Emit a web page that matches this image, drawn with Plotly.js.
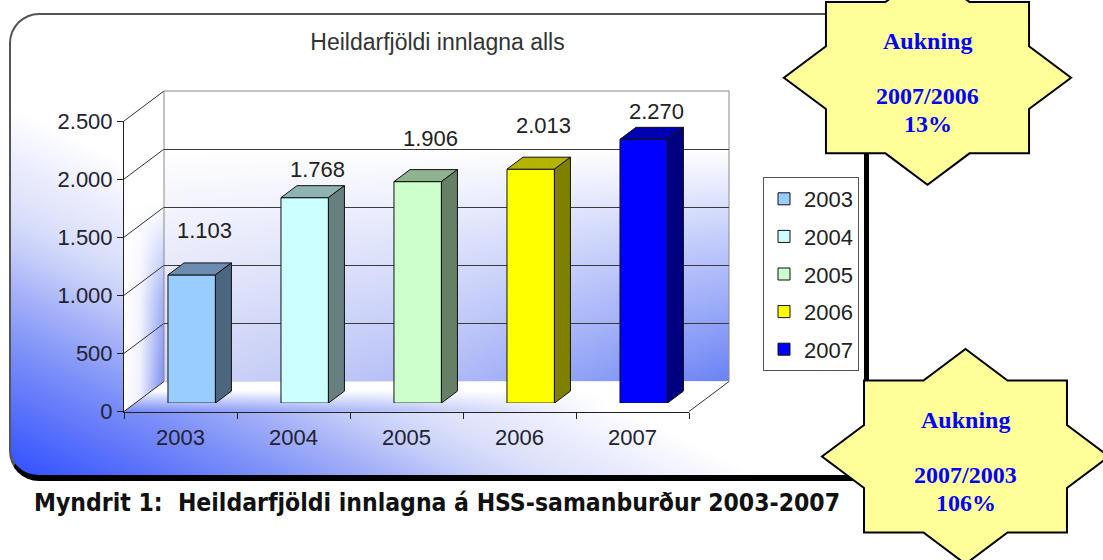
<!DOCTYPE html>
<html>
<head>
<meta charset="utf-8">
<script src="https://cdn.plot.ly/plotly-3.0.1.min.js"></script>
<style>
html,body{margin:0;padding:0;background:#ffffff;}
#wrap{position:relative;width:1103px;height:560px;overflow:hidden;}
#frame{position:absolute;left:9px;top:13px;width:860px;height:468px;box-sizing:border-box;
  border-top:2px solid #555;border-left:2px solid #555;border-right:5px solid #000;border-bottom:6px solid #000;
  border-radius:30px 0 0 30px;
  background:linear-gradient(26.3deg,#3050ff 0%,#5a72fb 8%,#7f92f8 15%,#a4b1f8 21%,#c6cef9 26%,#dadffa 30%,#eceefd 36%,#ffffff 42%);}
#chart{position:absolute;left:0;top:0;width:1103px;height:560px;}
</style>
</head>
<body>
<div id="wrap"><div id="frame"></div><div id="chart"></div></div>
<script>
// ---------- data ----------
const categories = ['2003', '2004', '2005', '2006', '2007'];
const values = [1103, 1768, 1906, 2013, 2270];
const valueLabels = ['1.103', '1.768', '1.906', '2.013', '2.270'];
const yTickVals = [0, 500, 1000, 1500, 2000, 2500];
const yTickText = ['0', '500', '1.000', '1.500', '2.000', '2.500'];
const chartTitle = 'Heildarfjöldi innlagna alls';
const captionText = 'Myndrit 1:  Heildarfjöldi innlagna á HSS-samanburður 2003-2007';
const star1Text = ['Aukning', '2007/2006', '13%'];
const star2Text = ['Aukning', '2007/2003', '106%'];

// ---------- styles ----------
const barColors = ['#99ccff', '#ccffff', '#ccffcc', '#ffff00', '#0000ff'];
const topColors = ['#6d8cb2', '#8fb3b3', '#8fb38f', '#b3b300', '#0000b3'];
const sideColors = ['#4d6680', '#668080', '#668066', '#808000', '#000080'];
const labelLift = [44, 28, 43, 44, 28];   // px above bar top
const starLineOffsets = [-37, 18, 46];    // px from star centre
const W = 1103, H = 560;
const FRONT = {x0: 124, x1: 689, y0: 411.5, y1: 121};
const DEPTH = {dx: 40, dy: 30};
const BAR_FRONT = 0.28, BAR_DEPTH = 0.4, BAR_WIDTH = 0.42;
const yMax = 2500;
const FONT = 'Liberation Sans, Arial, sans-serif';
const STARS = [
  {cx: 927.5, cy: 77.7, rx: 143.6, ry: 107, text: star1Text},
  {cx: 965.5, cy: 456.5, rx: 143.5, ry: 107.5, text: star2Text}
];

const pxPerCat = (FRONT.x1 - FRONT.x0) / categories.length;
const pxPerVal = (FRONT.y0 - FRONT.y1) / yMax;
const xdom = s => [(FRONT.x0 + s) / W, (FRONT.x1 + s) / W];
const ydom = s => [(H - (FRONT.y0 - s)) / H, (H - (FRONT.y1 - s)) / H];

// wall geometry (pixels)
const bx0 = FRONT.x0 + DEPTH.dx, bx1 = FRONT.x1 + DEPTH.dx;
const by0 = FRONT.y0 - DEPTH.dy, by1 = FRONT.y1 - DEPTH.dy;

function polyTrace(pts, grad) {
  const xs = pts.map(p => p[0]), ys = pts.map(p => H - p[1]);
  xs.push(xs[0]); ys.push(ys[0]);
  return {type: 'scatter', xaxis: 'x', yaxis: 'y', x: xs, y: ys, mode: 'lines',
    line: {width: 0}, fill: 'toself', fillgradient: grad, hoverinfo: 'skip', showlegend: false};
}
const backPts = [[bx0, by1], [bx1, by1], [bx1, by0], [bx0, by0]];
const leftPts = [[FRONT.x0, FRONT.y1], [bx0, by1], [bx0, by0], [FRONT.x0, FRONT.y0]];
const floorPts = [[FRONT.x0, FRONT.y0], [bx0, by0], [bx1, by0], [FRONT.x1, FRONT.y0]];

const traces = [];
// back wall: blue to the right, fading to white upwards
traces.push(polyTrace(backPts, {type: 'horizontal', start: bx0, stop: bx1,
  colorscale: [[0, '#d2d6f6'], [0.5, '#b0bbf7'], [1, '#6a82f5']]}));
traces.push(polyTrace(backPts, {type: 'vertical', start: H - by0, stop: H - by1,
  colorscale: [[0, 'rgba(255,255,255,0)'], [0.5, 'rgba(255,255,255,0.6)'], [0.8, 'rgba(255,255,255,1)'], [1, 'rgba(255,255,255,1)']]}));
// left wall: white at front, blue toward the back, lower part only
traces.push(polyTrace(leftPts, {type: 'horizontal', start: FRONT.x0, stop: bx0,
  colorscale: [[0, '#ffffff'], [0.4, '#eef0fd'], [1, '#6f84f0']]}));
traces.push(polyTrace(leftPts, {type: 'vertical', start: H - FRONT.y0, stop: H - by1,
  colorscale: [[0, 'rgba(255,255,255,0)'], [0.35, 'rgba(255,255,255,0.35)'], [0.65, 'rgba(255,255,255,1)'], [1, 'rgba(255,255,255,1)']]}));
// floor: blue at the front-left, white toward back and right
traces.push(polyTrace(floorPts, {type: 'horizontal', start: FRONT.x0, stop: bx1,
  colorscale: [[0, '#7489f5'], [0.45, '#b4bff8'], [0.8, '#ffffff'], [1, '#ffffff']]}));
traces.push(polyTrace(floorPts, {type: 'vertical', start: H - FRONT.y0, stop: H - by0,
  colorscale: [[0, 'rgba(255,255,255,0)'], [0.4, 'rgba(255,255,255,0.55)'], [0.7, 'rgba(255,255,255,1)'], [1, 'rgba(255,255,255,1)']]}));

// edge lines (left-wall gridlines, floor edge)
const ex = [], ey = [];
function seg(a, b) { ex.push(a[0], b[0], null); ey.push(H - a[1], H - b[1], null); }
yTickVals.forEach(v => {
  const yf = FRONT.y0 - v * pxPerVal;
  seg([FRONT.x0, yf], [bx0, yf - DEPTH.dy]);
});
seg([FRONT.x1, FRONT.y0], [bx1, by0]);
traces.push({type: 'scatter', xaxis: 'x', yaxis: 'y', x: ex, y: ey, mode: 'lines',
  line: {color: '#333333', width: 1}, hoverinfo: 'skip', showlegend: false});
// back wall outline (light)
const ox = [bx0, bx0, bx1, bx1], oy = [by0, by1, by1, by0].map(v => H - v);
traces.push({type: 'scatter', xaxis: 'x', yaxis: 'y', x: ox, y: oy, mode: 'lines',
  line: {color: '#8a8a8a', width: 1}, hoverinfo: 'skip', showlegend: false});

// back wall subplot anchor trace (invisible)
traces.push({type: 'scatter', xaxis: 'x2', yaxis: 'y2', x: [0], y: [0], mode: 'markers',
  marker: {opacity: 0}, hoverinfo: 'skip', showlegend: false});

// bars
categories.forEach((c, i) => {
  traces.push({type: 'bar', xaxis: 'x3', yaxis: 'y3', x: [i], y: [values[i]], width: [BAR_WIDTH],
    name: c, legendgroup: c,
    marker: {color: barColors[i], line: {color: '#111111', width: 1}}, hoverinfo: 'skip'});
});
// 3D faces
const dxc = BAR_DEPTH * DEPTH.dx / pxPerCat, dyv = BAR_DEPTH * DEPTH.dy / pxPerVal;
categories.forEach((c, i) => {
  const xl = i - BAR_WIDTH / 2, xr = i + BAR_WIDTH / 2, v = values[i];
  traces.push({type: 'scatter', xaxis: 'x3', yaxis: 'y3', mode: 'lines', fill: 'toself',
    x: [xl, xr, xr + dxc, xl + dxc, xl], y: [v, v, v + dyv, v + dyv, v],
    fillcolor: topColors[i], line: {color: '#111111', width: 1}, hoverinfo: 'skip', showlegend: false});
  traces.push({type: 'scatter', xaxis: 'x3', yaxis: 'y3', mode: 'lines', fill: 'toself',
    x: [xr, xr + dxc, xr + dxc, xr, xr], y: [0, dyv, v + dyv, v, 0],
    fillcolor: sideColors[i], line: {color: '#111111', width: 1}, hoverinfo: 'skip', showlegend: false});
});

// front axes anchor trace (invisible)
traces.push({type: 'scatter', xaxis: 'x4', yaxis: 'y4', x: categories, y: values, mode: 'markers',
  marker: {opacity: 0}, hoverinfo: 'skip', showlegend: false});

// ---------- annotations & shapes ----------
const annotations = [];
categories.forEach((c, i) => {
  annotations.push({xref: 'x3', yref: 'y3', x: i, y: values[i], text: valueLabels[i], showarrow: false,
    xanchor: 'center', yanchor: 'middle', xshift: 13, yshift: labelLift[i],
    font: {family: FONT, size: 22, color: '#222222'}});
});
annotations.push({xref: 'paper', yref: 'paper', x: 436.5 / W, y: (H - 502) / H, text: captionText,
  showarrow: false, xanchor: 'center', yanchor: 'middle',
  font: {family: 'DejaVu Sans Condensed, DejaVu Sans, sans-serif', size: 24.5, color: '#111111', weight: 'bold'}});

const shapes = [];
STARS.forEach(s => {
  let d = '';
  for (let k = 0; k < 16; k++) {
    const a = k * Math.PI / 8, r = (k % 2 === 0) ? 1 : 0.7654;
    const px = s.cx + s.rx * r * Math.cos(a), py = s.cy + s.ry * r * Math.sin(a);
    d += (k === 0 ? 'M' : 'L') + (px / W).toFixed(5) + ',' + ((H - py) / H).toFixed(5);
  }
  d += 'Z';
  shapes.push({type: 'path', xref: 'paper', yref: 'paper', path: d, fillcolor: '#ffff99',
    line: {color: '#000000', width: 2}, layer: 'above'});
  s.text.forEach((t, j) => {
    annotations.push({xref: 'paper', yref: 'paper', x: s.cx / W, y: (H - (s.cy + starLineOffsets[j])) / H,
      text: t, showarrow: false, xanchor: 'center', yanchor: 'middle',
      font: {family: 'Liberation Serif, Times New Roman, serif', size: 24, color: '#0000ff', weight: 'bold'}});
  });
});

const hidden = {visible: false, fixedrange: true};
const layout = {
  width: W, height: H, margin: {l: 0, r: 0, t: 0, b: 0, pad: 0},
  paper_bgcolor: 'rgba(0,0,0,0)', plot_bgcolor: 'rgba(0,0,0,0)',
  barmode: 'overlay', showlegend: true,
  title: {text: chartTitle, x: 437.5 / W, y: (H - 42) / H, xanchor: 'center', yanchor: 'middle',
    font: {family: FONT, size: 23, color: '#333333'}},
  xaxis: Object.assign({domain: [0, 1], range: [0, W], anchor: 'y'}, hidden),
  yaxis: Object.assign({domain: [0, 1], range: [0, H], anchor: 'x'}, hidden),
  xaxis2: {domain: xdom(DEPTH.dx), range: [-0.5, 4.5], anchor: 'y2', showgrid: false, zeroline: false,
    showticklabels: false, ticks: '', showline: false, fixedrange: true},
  yaxis2: {domain: ydom(DEPTH.dy), range: [0, yMax], anchor: 'x2', tickvals: yTickVals, showgrid: true,
    gridcolor: '#3a3a3a', gridwidth: 1, zeroline: false, showticklabels: false, ticks: '', showline: false, fixedrange: true},
  xaxis3: Object.assign({domain: xdom(BAR_FRONT * DEPTH.dx), range: [-0.5, 4.5], anchor: 'y3'}, hidden),
  yaxis3: Object.assign({domain: ydom(BAR_FRONT * DEPTH.dy), range: [0, yMax], anchor: 'x3'}, hidden),
  xaxis4: {domain: xdom(0), type: 'category', categoryorder: 'array', categoryarray: categories,
    range: [-0.5, 4.5], anchor: 'y4', showgrid: false, zeroline: false, showline: true, linecolor: '#222222', linewidth: 1,
    ticks: 'outside', tickson: 'boundaries', ticklen: 6, tickcolor: '#222222', ticklabelstandoff: 6,
    tickfont: {family: FONT, size: 22, color: '#222233'}, fixedrange: true},
  yaxis4: {domain: ydom(0), range: [0, yMax], anchor: 'x4', tickvals: yTickVals, ticktext: yTickText,
    showgrid: false, zeroline: false, showline: true, linecolor: '#222222', linewidth: 1,
    ticks: 'outside', ticklen: 6, tickcolor: '#222222', ticklabelstandoff: 0,
    tickfont: {family: FONT, size: 22, color: '#222233'}, fixedrange: true},
  legend: {x: 859 / W, xanchor: 'right', y: (H - 177) / H, yanchor: 'top', bgcolor: '#ffffff',
    bordercolor: '#555555', borderwidth: 1, tracegroupgap: 6,
    font: {family: FONT, size: 22, color: '#222222'}},
  annotations: annotations,
  shapes: shapes
};
Plotly.newPlot('chart', traces, layout, {displayModeBar: false, staticPlot: true});
</script>
</body>
</html>
